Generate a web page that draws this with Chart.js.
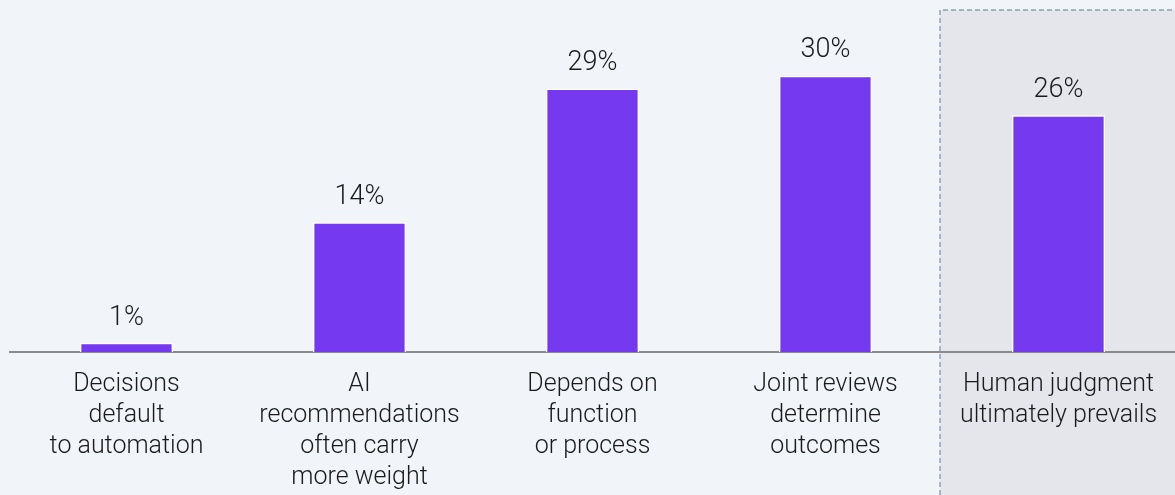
<!DOCTYPE html>
<html>
<head>
<meta charset="utf-8">
<script src="https://cdn.jsdelivr.net/npm/chart.js@4/dist/chart.umd.min.js"></script>
<style>
  html, body { margin: 0; padding: 0; background: #f1f4f8; }
  #wrap { width: 1175px; height: 495px; position: relative; }
</style>
</head>
<body>
<div id="wrap"><canvas id="chart"></canvas></div>
<script>
// categories (multi-line labels) and values
const categories = [
  ['Decisions', 'default', 'to automation'],
  ['AI', 'recommendations', 'often carry', 'more weight'],
  ['Depends on', 'function', 'or process'],
  ['Joint reviews', 'determine', 'outcomes'],
  ['Human judgment', 'ultimately prevails']
];
const shares = [1.0, 14.1, 28.6, 30.0, 25.7];
const highlightIndex = 4;

// shaded box behind the last category, dashed on the left and top
const highlightPlugin = {
  id: 'highlight',
  beforeDraw(chart) {
    const x = chart.scales.x;
    const ctx = chart.ctx;
    const half = (x.getPixelForValue(1) - x.getPixelForValue(0)) / 2;
    const left = x.getPixelForValue(highlightIndex) - half - 2;
    const top = 10;
    ctx.save();
    ctx.fillStyle = '#e4e6eb';
    ctx.fillRect(left, top, chart.width - left, chart.height - top);
    ctx.strokeStyle = '#8fa2b7';
    ctx.lineWidth = 1.5;
    ctx.setLineDash([5, 3]);
    ctx.beginPath();
    ctx.moveTo(left, chart.height);
    ctx.lineTo(left, top);
    ctx.lineTo(chart.width, top);
    ctx.stroke();
    ctx.restore();
  }
};

// percentage labels above bars
const valueLabels = {
  id: 'valueLabels',
  afterDatasetsDraw(chart) {
    const ctx = chart.ctx;
    const meta = chart.getDatasetMeta(0);
    ctx.save();
    ctx.font = '300 27px Roboto, "Liberation Sans", sans-serif';
    ctx.fillStyle = '#1a1a1a';
    ctx.textAlign = 'center';
    ctx.textBaseline = 'middle';
    meta.data.forEach((bar, i) => {
      ctx.fillText(Math.round(shares[i]) + '%', bar.x, bar.y - 25);
    });
    ctx.restore();
  }
};

const ctx = document.getElementById('chart').getContext('2d');
new Chart(ctx, {
  type: 'bar',
  data: {
    labels: categories,
    datasets: [{
      data: shares,
      backgroundColor: '#7539ef',
      borderColor: '#ffffff',
      borderWidth: 1.5,
      barPercentage: 0.4,
      categoryPercentage: 1.0
    }]
  },
  options: {
    responsive: true,
    maintainAspectRatio: false,
    animation: false,
    layout: { padding: { left: 10, right: 0, top: 2, bottom: 0 } },
    plugins: {
      legend: { display: false },
      tooltip: { enabled: false }
    },
    scales: {
      x: {
        grid: { display: false, drawTicks: false },
        border: { display: true, color: '#8a8a8a', width: 2 },
        ticks: {
          color: '#1a1a1a',
          padding: 17,
          maxRotation: 0,
          autoSkip: false,
          font: { family: 'Roboto, "Liberation Sans", sans-serif', size: 25, weight: '300', lineHeight: 1.24 }
        },
        afterFit(scale) { scale.height = 143; }
      },
      y: {
        display: false,
        min: 0,
        max: 38
      }
    }
  },
  plugins: [highlightPlugin, valueLabels]
});
</script>
</body>
</html>
